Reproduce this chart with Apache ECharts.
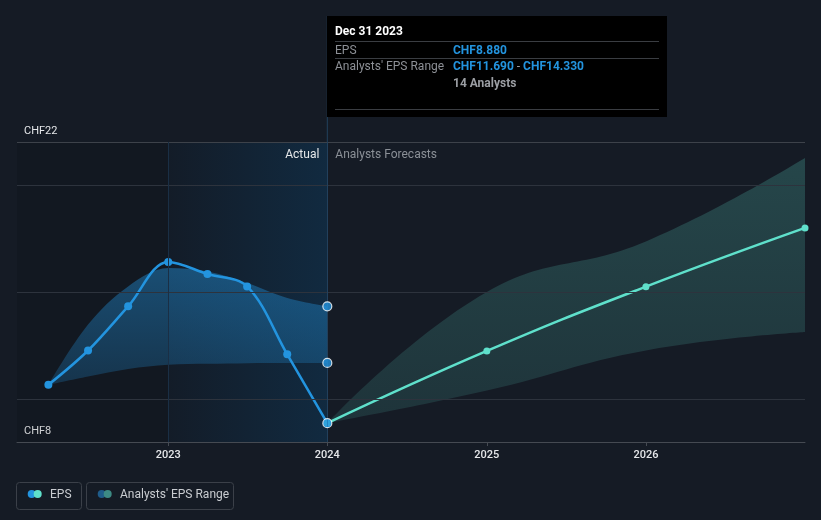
<!DOCTYPE html>
<html><head><meta charset="utf-8">
<script src="https://cdn.jsdelivr.net/npm/echarts@6/dist/echarts.min.js"></script>
<style>html,body{margin:0;padding:0;background:#151b25;}#c{width:821px;height:520px;}</style>
</head><body><div id="c"></div>
<script>
// ---- data ----
const actualDates = ['2022-03-31','2022-06-30','2022-09-30','2022-12-31','2023-03-31','2023-06-30','2023-09-30','2023-12-31'];
const actualEps = [10.67, 12.27, 14.33, 16.40, 15.84, 15.26, 12.09, 8.88];
const actualRangeLow = [10.67, 11.06, 11.41, 11.61, 11.65, 11.68, 11.69, 11.69];
const actualRangeHigh = [10.67, 13.48, 15.26, 16.12, 15.96, 15.42, 14.72, 14.33];
const forecastDates = ['2023-12-31','2024-12-31','2025-12-31','2026-12-31'];
const forecastEps = [8.88, 12.25, 15.25, 17.99];
const forecastLow = [8.88, 10.40, 12.27, 13.13];
const forecastHigh = [8.88, 15.00, 17.36, 21.25];
const xTickLabels = ['2023','2024','2025','2026'];
const yTickLabels = [8, 22];
const gridValues = [10, 15, 20, 22];
const tooltipDate = 'Dec 31 2023';
const analystCount = 14;

// ---- helpers ----
const DAY = 86400000;
const toTime = s => Date.UTC(+s.slice(0,4), +s.slice(5,7)-1, +s.slice(8,10)) + DAY; // end of day
const yearStart = y => Date.UTC(+y, 0, 1);
const xMin = Date.UTC(2022, 0, 19);
const xMax = Date.UTC(2026, 11, 31, 23);
const t2023 = yearStart(2023), t2024 = yearStart(2024);
const pts = (dates, vals) => dates.map((d, i) => [toTime(d), vals[i]]);
const diffPts = (dates, lo, hi) => dates.map((d, i) => [toTime(d), +(hi[i] - lo[i]).toFixed(3)]);
const FONT = 'Roboto, "Noto Sans", sans-serif';
const BLUE = '#2394df', TEAL = '#5fe0cb';
const SA = 0.35, SF = 0.45;

const chart = echarts.init(document.getElementById('c'));
const lastIdx = actualEps.length - 1;
const hiPts = [[toTime(actualDates[lastIdx]), actualEps[lastIdx]],
               [toTime(actualDates[lastIdx]), actualRangeHigh[lastIdx]],
               [toTime(actualDates[lastIdx]), actualRangeLow[lastIdx]]];

const option = {
  backgroundColor: '#151b25',
  animation: false,
  grid: { left: 17, right: 16, top: 142, bottom: 78, containLabel: false },
  xAxis: {
    type: 'time', min: xMin, max: xMax, splitNumber: 4, minInterval: 365 * DAY,
    axisLine: { show: true, lineStyle: { color: '#454a52', width: 1 } },
    axisTick: { show: true, length: 4, lineStyle: { color: '#454a52' } },
    axisLabel: { color: '#e4e6e9', fontSize: 11, fontWeight: 500, fontFamily: FONT, margin: 8,
      showMinLabel: false, showMaxLabel: false,
      formatter: v => { const s = String(new Date(v).getUTCFullYear()); return xTickLabels.includes(s) && new Date(v).getUTCMonth() === 0 ? s : ''; } },
    splitLine: { show: false }
  },
  yAxis: {
    type: 'value', min: 8, max: 22, interval: 2,
    axisLine: { show: false }, axisTick: { show: false }, splitLine: { show: false },
    axisLabel: { inside: true, margin: 7, verticalAlign: 'bottom', padding: [0, 0, 5, 0],
      showMinLabel: true, showMaxLabel: true,
      color: '#e4e6e9', fontSize: 11, fontFamily: FONT,
      formatter: v => yTickLabels.includes(v) ? 'CHF' + v : '' }
  },
  series: [
    { // background regions & reference lines
      type: 'line', z: 1, data: [[xMin, 8]], showSymbol: false, lineStyle: { width: 0 }, silent: true,
      markArea: { silent: true, data: [
        [{ xAxis: xMin, itemStyle: { color: 'rgba(0,0,0,0.1)' } }, { xAxis: t2023 }],
        [{ xAxis: t2023, itemStyle: { color: { type: 'linear', x: 0, y: 0, x2: 1, y2: 0,
            colorStops: [{ offset: 0, color: '#131c28' }, { offset: 1, color: '#112a40' }] } } }, { xAxis: t2024 }]
      ] },
      markLine: { silent: true, symbol: 'none', label: { show: false },
        data: gridValues.map(v => ({ yAxis: v, lineStyle: { color: v === 22 ? '#3d424a' : '#2d333d', width: 1, type: 'solid' } }))
          .concat([{ xAxis: t2023, lineStyle: { color: '#1a2f45', width: 1, type: 'solid' } },
                   { xAxis: t2024, lineStyle: { color: '#22405c', width: 1, type: 'solid' } }])
      }
    },
    { name: 'rangeLowA', type: 'line', z: 2, stack: 'a', smooth: SA, showSymbol: false,
      lineStyle: { width: 0 }, data: pts(actualDates, actualRangeLow) },
    { name: 'rangeA', type: 'line', z: 2, stack: 'a', smooth: SA, showSymbol: false,
      lineStyle: { width: 0 },
      areaStyle: { color: { type: 'linear', x: 0, y: 0, x2: 0, y2: 1,
        colorStops: [{ offset: 0, color: 'rgba(35,148,223,0.62)' }, { offset: 1, color: 'rgba(35,148,223,0.32)' }] } },
      data: diffPts(actualDates, actualRangeLow, actualRangeHigh) },
    { name: 'rangeLowF', type: 'line', z: 2, stack: 'f', smooth: SF, showSymbol: false,
      lineStyle: { width: 0 }, data: pts(forecastDates, forecastLow) },
    { name: 'rangeF', type: 'line', z: 2, stack: 'f', smooth: SF, showSymbol: false,
      lineStyle: { width: 0 },
      areaStyle: { color: { type: 'linear', x: 0, y: 0, x2: 0, y2: 1,
        colorStops: [{ offset: 0, color: 'rgba(60,130,125,0.6)' }, { offset: 1, color: 'rgba(60,130,125,0.34)' }] } },
      data: diffPts(forecastDates, forecastLow, forecastHigh) },
    { name: 'EPS', type: 'line', z: 4, smooth: SA, symbol: 'circle', symbolSize: 8,
      lineStyle: { color: BLUE, width: 2.5 }, itemStyle: { color: BLUE },
      data: pts(actualDates, actualEps) },
    { name: 'EPSF', type: 'line', z: 4, smooth: SF, symbol: 'circle', symbolSize: 7,
      lineStyle: { color: TEAL, width: 2.5 }, itemStyle: { color: TEAL },
      data: pts(forecastDates, forecastEps) },
    { name: 'hl', type: 'scatter', z: 5, symbol: 'circle', symbolSize: 9,
      itemStyle: { color: BLUE, borderColor: '#ffffff', borderWidth: 1.2 },
      data: hiPts }
  ]
};
chart.setOption(option);

const x24 = chart.convertToPixel({ xAxisIndex: 0 }, t2024);
const gy22 = chart.convertToPixel({ yAxisIndex: 0 }, 22);
const fmt = v => 'CHF' + v.toFixed(3);
const tipX = 327, tipY = 16, tipW = 340, tipH = 101;
chart.setOption({
  graphic: [
    { type: 'line', shape: { x1: x24, y1: tipY, x2: x24, y2: gy22 }, style: { stroke: '#22405c', lineWidth: 1 }, z: 10 },
    { type: 'text', x: x24 - 8, y: 155, style: { text: 'Actual', align: 'right', verticalAlign: 'middle', fill: '#e6e8ea', font: '12px ' + FONT }, z: 10 },
    { type: 'text', x: x24 + 8, y: 155, style: { text: 'Analysts Forecasts', align: 'left', verticalAlign: 'middle', fill: '#8b9097', font: '12px ' + FONT }, z: 10 },
    // tooltip box
    { type: 'rect', shape: { x: tipX, y: tipY, width: tipW, height: tipH }, style: { fill: '#000000' }, z: 20 },
    { type: 'text', x: 335, y: 32, style: { text: tooltipDate, verticalAlign: 'middle', fill: '#ffffff', font: 'bold 12px ' + FONT }, z: 21 },
    { type: 'line', shape: { x1: 335, y1: 41.5, x2: 659, y2: 41.5 }, style: { stroke: '#3a3d42', lineWidth: 1 }, z: 21 },
    { type: 'text', x: 335, y: 50.5, style: { text: 'EPS', verticalAlign: 'middle', fill: '#8d9096', font: '12px ' + FONT }, z: 21 },
    { type: 'text', x: 453, y: 50.5, style: { text: fmt(actualEps[lastIdx]), verticalAlign: 'middle', fill: BLUE, font: 'bold 12px ' + FONT }, z: 21 },
    { type: 'line', shape: { x1: 335, y1: 58.5, x2: 659, y2: 58.5 }, style: { stroke: '#3a3d42', lineWidth: 1 }, z: 21 },
    { type: 'text', x: 335, y: 67, style: { text: "Analysts' EPS Range", verticalAlign: 'middle', fill: '#8d9096', font: '12px ' + FONT }, z: 21 },
    { type: 'text', x: 453, y: 67, style: { text: '{b|' + fmt(actualRangeLow[lastIdx]) + '}{g| - }{b|' + fmt(actualRangeHigh[lastIdx]) + '}',
        verticalAlign: 'middle', rich: { b: { fill: BLUE, fontWeight: 'bold', fontSize: 12, fontFamily: FONT }, g: { fill: '#9b9ea3', fontSize: 12, fontFamily: FONT } } }, z: 21 },
    { type: 'text', x: 453, y: 84, style: { text: analystCount + ' Analysts', verticalAlign: 'middle', fill: '#9b9ea3', font: 'bold 12px ' + FONT }, z: 21 },
    { type: 'line', shape: { x1: 335, y1: 109.5, x2: 659, y2: 109.5 }, style: { stroke: '#3a3d42', lineWidth: 1 }, z: 21 },
    // legend
    { type: 'rect', shape: { x: 16.5, y: 482.5, width: 65, height: 27, r: 3 }, style: { fill: 'none', stroke: '#3b4049', lineWidth: 1 }, z: 20 },
    { type: 'circle', shape: { cx: 31.7, cy: 494, r: 4 }, style: { fill: BLUE }, z: 21 },
    { type: 'circle', shape: { cx: 37.7, cy: 494, r: 4 }, style: { fill: TEAL }, z: 22 },
    { type: 'text', x: 50, y: 495, style: { text: 'EPS', verticalAlign: 'middle', fill: '#c9ccd1', font: '12px ' + FONT }, z: 21 },
    { type: 'rect', shape: { x: 86.5, y: 482.5, width: 147, height: 27, r: 3 }, style: { fill: 'none', stroke: '#3b4049', lineWidth: 1 }, z: 20 },
    { type: 'circle', shape: { cx: 101.7, cy: 494, r: 4 }, style: { fill: '#1f5c8a' }, z: 21 },
    { type: 'circle', shape: { cx: 107.7, cy: 494, r: 4 }, style: { fill: '#3d8a84' }, z: 22 },
    { type: 'text', x: 120, y: 495, style: { text: "Analysts' EPS Range", verticalAlign: 'middle', fill: '#c9ccd1', font: '12px ' + FONT }, z: 21 }
  ]
});
</script></body></html>
